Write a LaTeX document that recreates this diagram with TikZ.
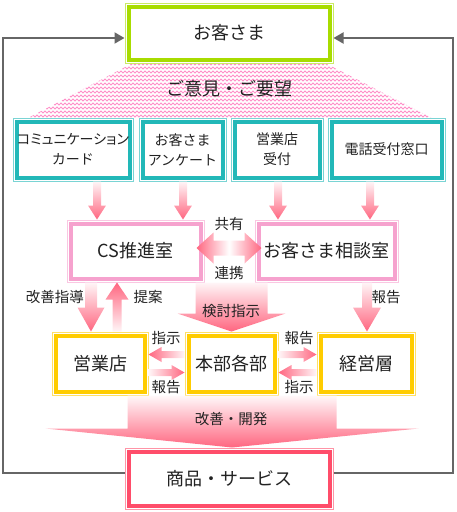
\documentclass[tikz,border=0pt]{standalone}
\usepackage{fontspec}
\setmainfont{Noto Sans CJK JP}
\newfontfamily\propjp{Noto Sans CJK JP}[RawFeature=+palt]
\usetikzlibrary{arrows.meta,calc,decorations.pathmorphing}
\definecolor{kgreen}{HTML}{A8DC00}
\definecolor{kteal}{HTML}{22B8B8}
\definecolor{kpink}{HTML}{F6A2CE}
\definecolor{kyellow}{HTML}{FFCC00}
\definecolor{kred}{HTML}{FF4D6A}
\definecolor{arrowpink}{HTML}{FF6680}
\definecolor{zigpink}{HTML}{FF8FC8}
\definecolor{loopgray}{HTML}{666666}
\definecolor{txt}{HTML}{222222}
\newcommand{\blockarrow}[6]{%
  \path ($(#3)!#6!(#2)$) coordinate (hb);
  \shade[#1] ($(#2)!#4!90:(#3)$) -- ($(hb)!#4!90:(#3)$) -- ($(hb)!#5!90:(#3)$) -- (#3)
    -- ($(hb)!#5!-90:(#3)$) -- ($(hb)!#4!-90:(#3)$) -- ($(#2)!#4!-90:(#3)$) -- cycle;}

\begin{document}
\begin{tikzpicture}[x=1pt, y=-1pt,
    box/.style={draw=#1!60, line width=1pt, fill=white, inner sep=0pt, align=center, text=txt,
      path picture={\draw[#1, line width=4pt]
        ([shift={(3.5pt,3.5pt)}]path picture bounding box.south west) rectangle
        ([shift={(-3.5pt,-3.5pt)}]path picture bounding box.north east);}},
    big/.style={font=\fontsize{18}{20}\selectfont},
    mid/.style={font=\fontsize{14}{20}\selectfont},
    lbl/.style={font=\fontsize{14.5}{16}\selectfont, text=txt, inner sep=1pt},
    loopline/.style={draw=loopgray, line width=2pt, -{Triangle[length=10pt, width=11pt]}},
    zig/.style={draw=zigpink, line width=0.8pt, decorate, decoration={zigzag, segment length=4pt, amplitude=1.1pt}},
    down/.style={top color=arrowpink!6, bottom color=arrowpink},
    up/.style={bottom color=arrowpink!6, top color=arrowpink},
    left/.style={left color=arrowpink, right color=arrowpink!6},
    right/.style={left color=arrowpink!6, right color=arrowpink}]
  \useasboundingbox (0,0) rectangle (456,512);

  \begin{scope}
    \clip (133,63) -- (325,63) -- (432,118) -- (28,118) -- cycle;
    \foreach \y in {64,68,...,120} \draw[zig] (20,\y) -- (440,\y);
  \end{scope}
  \node[lbl, font=\fontsize{18}{20}\selectfont] (voice) at (229,89) {ご意見・ご要望};

  \node[box=kgreen, big, minimum width=208, minimum height=60] (kyaku) at (229,33) {お客さま};

  \node[box=kteal, mid, minimum width=120, minimum height=63] (c1) at (73,149.5) {{\propjp コミュニケーション}\\カード};
  \node[box=kteal, mid, minimum width=87, minimum height=63] (c2) at (182.5,149.5) {お客さま\\アンケート};
  \node[box=kteal, mid, minimum width=92, minimum height=63] (c3) at (277,149.5) {営業店\\受付};
  \node[box=kteal, mid, minimum width=117, minimum height=63] (c4) at (386.5,149.5) {電話受付窓口};

  \node[box=kpink, big, minimum width=137, minimum height=62] (cs) at (135.5,251) {CS推進室};
  \node[box=kpink, big, minimum width=143, minimum height=62] (sodan) at (326.5,251) {お客さま相談室};

  \node[box=kyellow, big, minimum width=96, minimum height=63] (eigyo) at (100,363.5) {営業店};
  \node[box=kyellow, big, minimum width=93, minimum height=63] (honbu) at (231.5,363.5) {本部各部};
  \node[box=kyellow, big, minimum width=98, minimum height=63] (keiei) at (366,363.5) {経営層};

  \node[box=kred, big, minimum width=208, minimum height=61] (shohin) at (229,478.5) {商品・サービス};

  \draw[loopline] ([yshift=6pt]shohin.west) -| (3,38) -- ([yshift=-5pt]kyaku.west);
  \draw[loopline] ([yshift=6pt]shohin.east) -| (453,38) -- ([yshift=-5pt]kyaku.east);

  \foreach \n/\dx/\to in {1/24/cs, 2/0.5/cs, 3/1/sodan, 4/-16.5/sodan} {
    \coordinate (t\n) at ([xshift=\dx pt]c\n.south);
    \coordinate (h\n) at (t\n |- \to.north);
    \blockarrow{down}{t\n}{h\n}{4pt}{9pt}{14pt}
  }

  \coordinate (sd) at ([xshift=-44.5pt]cs.south);
  \coordinate (sdt) at (sd |- eigyo.north);
  \blockarrow{down}{sd}{sdt}{6pt}{13.5pt}{24pt}
  \coordinate (ta) at ([xshift=17pt]eigyo.north);
  \coordinate (tat) at (ta |- cs.south);
  \blockarrow{up}{ta}{tat}{4.5pt}{11.5pt}{17pt}
  \coordinate (ks) at (honbu.north |- cs.south);
  \blockarrow{down}{ks}{honbu.north}{36pt}{54pt}{18pt}
  \coordinate (hk) at ([xshift=40.5pt]sodan.south);
  \coordinate (hkt) at (hk |- keiei.north);
  \blockarrow{down}{hk}{hkt}{5pt}{14pt}{24pt}

  \coordinate (s1) at ([yshift=9pt]honbu.west);
  \coordinate (s1t) at (s1 -| eigyo.east);
  \blockarrow{left}{s1}{s1t}{3.5pt}{7.5pt}{13pt}
  \coordinate (r1) at ([yshift=-9pt]eigyo.east);
  \coordinate (r1t) at (r1 -| honbu.west);
  \blockarrow{right}{r1}{r1t}{3.5pt}{7.5pt}{13pt}
  \coordinate (r2) at ([yshift=9pt]honbu.east);
  \coordinate (r2t) at (r2 -| keiei.west);
  \blockarrow{right}{r2}{r2t}{3.5pt}{7.5pt}{13pt}
  \coordinate (s2) at ([yshift=-9pt]keiei.west);
  \coordinate (s2t) at (s2 -| honbu.east);
  \blockarrow{left}{s2}{s2t}{3.5pt}{7.5pt}{13pt}

  \coordinate (kk) at ([xshift=0.5pt]honbu.south);
  \coordinate (kkt) at (kk |- shohin.north);
  \blockarrow{top color=arrowpink!4, bottom color=arrowpink}{kk}{kkt}{104.5pt}{186.5pt}{19pt}

  \coordinate (dl) at ([xshift=-8pt, yshift=3pt]cs.east);
  \coordinate (dr) at ([xshift=7pt, yshift=3pt]sodan.west);
  \shade[left color=arrowpink, right color=arrowpink, middle color=white]
    (dl) -- ++(17,-15.5) -- ++(0,8) -- ($(dr)+(-17,-7.5)$) -- ++(0,-8) -- (dr)
    -- ++(-17,15.5) -- ++(0,-8) -- ($(dl)+(17,7.5)$) -- ++(0,8) -- cycle;

  \node[lbl] (kyoyu) at (229,224) {共有};
  \node[lbl] (renkei) at (229,273) {連携};
  \node[lbl] (shido) at (55,297) {改善指導};
  \node[lbl] (teian) at (148,297) {提案};
  \node[lbl] (hokoku1) at (386,297) {報告};
  \node[lbl] (kento) at (231,311) {検討指示};
  \node[lbl] (shiji1) at (166,338) {指示};
  \node[lbl] (hokoku2) at (166,387) {報告};
  \node[lbl] (hokoku3) at (299,338) {報告};
  \node[lbl] (shiji2) at (299,387) {指示};
  \node[lbl] (kaihatsu) at (231,419) {改善・開発};
\end{tikzpicture}
\end{document}
